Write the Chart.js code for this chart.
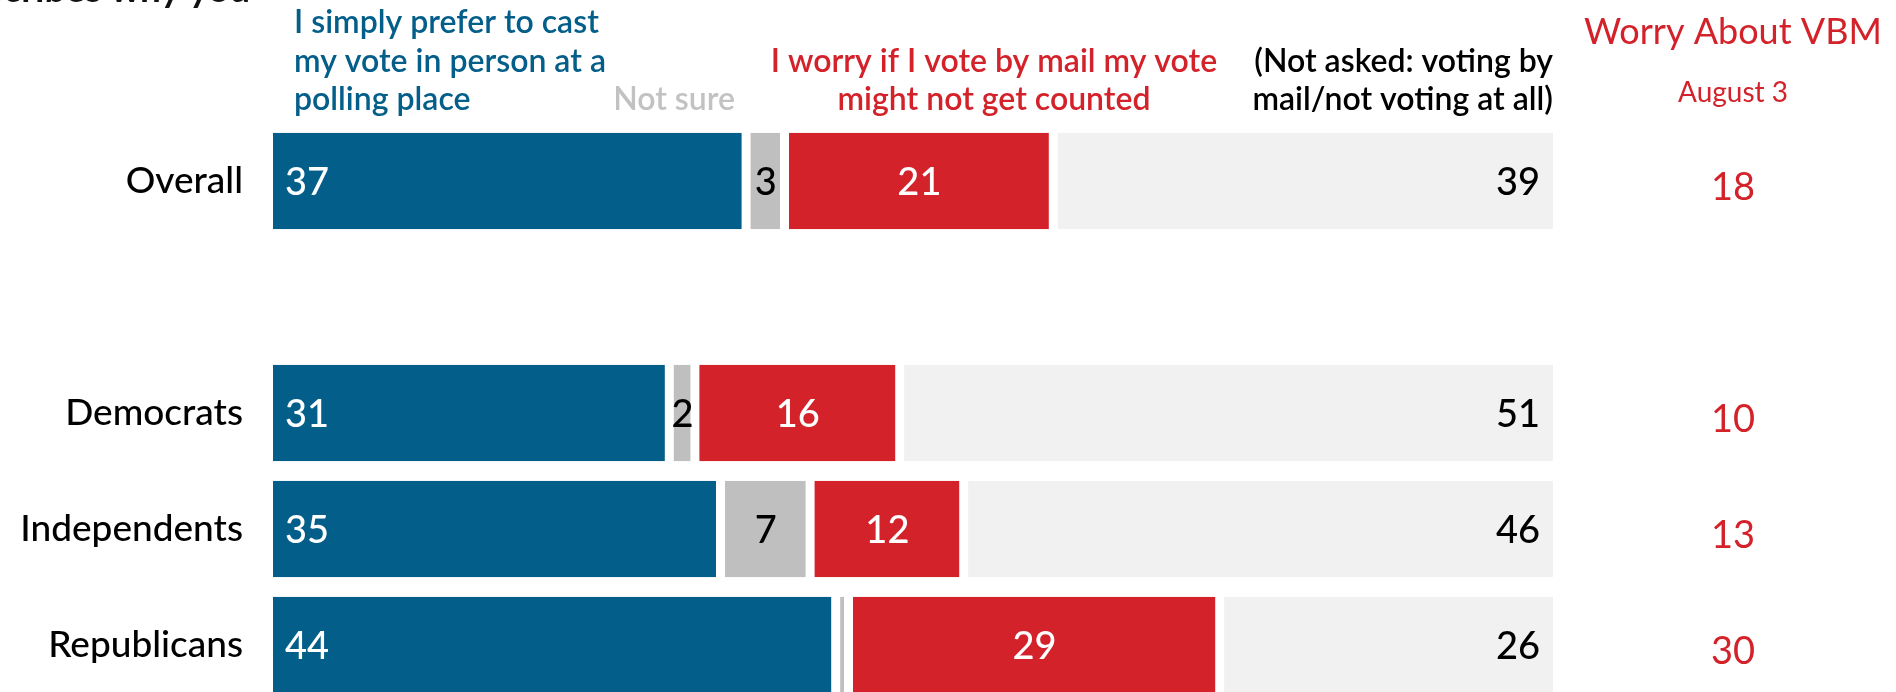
<!DOCTYPE html>
<html>
<head>
<meta charset="utf-8">
<script src="https://cdn.jsdelivr.net/npm/chart.js@4.4.0/dist/chart.umd.min.js"></script>
<style>
  html, body { margin: 0; padding: 0; background: #fff; overflow: hidden; }
  canvas { display: block; }
</style>
</head>
<body>
<canvas id="vbmChart" width="1896" height="703"></canvas>
<script>
// ---- data ----
const categories = ["Overall", "", "Democrats", "Independents", "Republicans"];
const inPerson = [37, null, 31, 35, 44];
const notSure = [3, null, 2, 7, 1];
const worryCounted = [21, null, 16, 12, 29];
const notAsked = [39, null, 51, 46, 26];
const worryAug3 = [18, null, 10, 13, 30];

const questionTitle = "Which best describes why you";
const headInPerson = ["I simply prefer to cast", "my vote in person at a", "polling place"];
const headNotSure = "Not sure";
const headWorry = ["I worry if I vote by mail my vote", "might not get counted"];
const headNotAsked = ["(Not asked: voting by", "mail/not voting at all)"];
const sideTitle = "Worry About VBM";
const sideDate = "August 3";

// ---- colours ----
const BLUE = "#035e89";
const RED = "#d3222a";
const GRAY = "#bfbfbf";
const LIGHT = "#f1f1f1";
const FONT = "Lato, 'Liberation Sans', sans-serif";

// ___________ value labels inside the bars ___________ //
const valueLabels = {
  id: "valueLabels",
  afterDatasetsDraw(chart) {
    const ctx = chart.ctx;
    ctx.save();
    ctx.font = "500 38px " + FONT;
    ctx.textBaseline = "alphabetic";
    chart.data.datasets.forEach((ds, i) => {
      const meta = chart.getDatasetMeta(i);
      meta.data.forEach((bar, j) => {
        const v = ds.data[j];
        if (v == null || v < 2) return; // 1-point slivers stay unlabeled
        const y = bar.y + 14;
        ctx.fillStyle = ds.labelColor;
        if (ds.labelPos === "start") {
          ctx.textAlign = "left";
          ctx.fillText(String(v), bar.base + 12, y);
        } else if (ds.labelPos === "end") {
          ctx.textAlign = "right";
          ctx.fillText(String(v), bar.x - 13, y);
        } else {
          ctx.textAlign = "center";
          ctx.fillText(String(v), (bar.base + bar.x) / 2, y);
        }
      });
    });
    ctx.restore();
  },
};

// ___________ column headers + side column ___________ //
const headerText = {
  id: "headerText",
  afterDraw(chart) {
    const { ctx, chartArea } = chart;
    const yScale = chart.scales.y;
    ctx.save();
    ctx.textBaseline = "alphabetic";

    // question title, runs off the top edge
    ctx.font = "bold 37px " + FONT;
    ctx.fillStyle = "#111";
    ctx.textAlign = "right";
    ctx.fillText(questionTitle, 250, 2);

    ctx.font = "600 32px " + FONT;
    ctx.fillStyle = BLUE;
    ctx.textAlign = "left";
    headInPerson.forEach((line, i) => ctx.fillText(line, chartArea.left + 21, 33 + i * 38.5));

    ctx.fillStyle = "#c2c2c2";
    ctx.textAlign = "right";
    ctx.fillText(headNotSure, 735, 110);

    ctx.fillStyle = RED;
    ctx.textAlign = "center";
    headWorry.forEach((line, i) => ctx.fillText(line, 994, 72 + i * 38));

    ctx.fillStyle = "#000";
    ctx.textAlign = "right";
    headNotAsked.forEach((line, i) => ctx.fillText(line, chartArea.right, 72 + i * 38));

    // side column
    const colX = 1733;
    ctx.fillStyle = RED;
    ctx.textAlign = "center";
    ctx.font = "36px " + FONT;
    ctx.fillText(sideTitle, colX, 44);
    ctx.font = "28px " + FONT;
    ctx.fillText(sideDate, colX, 102);
    ctx.font = "38px " + FONT;
    worryAug3.forEach((v, j) => {
      if (v == null) return;
      ctx.fillText(String(v), colX, yScale.getPixelForValue(j) + 19);
    });
    ctx.restore();
  },
};

const gap = (l, r) => ({ top: 0, bottom: 0, left: l, right: r });

const ctx = document.getElementById("vbmChart").getContext("2d");
const vbmChart = new Chart(ctx, {
  type: "bar",
  data: {
    labels: categories,
    datasets: [
      {
        label: "In person",
        data: inPerson,
        backgroundColor: BLUE,
        borderColor: "#fff",
        borderWidth: gap(0, 5),
        borderSkipped: false,
        labelPos: "start",
        labelColor: "#fff",
      },
      {
        label: "Not sure",
        data: notSure,
        backgroundColor: GRAY,
        borderColor: "#fff",
        borderWidth: gap(4, 5),
        borderSkipped: false,
        labelPos: "center",
        labelColor: "#000",
      },
      {
        label: "Worry",
        data: worryCounted,
        backgroundColor: RED,
        borderColor: "#fff",
        borderWidth: gap(4, 5),
        borderSkipped: false,
        labelPos: "center",
        labelColor: "#fff",
      },
      {
        label: "Not asked",
        data: notAsked,
        backgroundColor: LIGHT,
        borderColor: "#fff",
        borderWidth: gap(4, 0),
        borderSkipped: false,
        labelPos: "end",
        labelColor: "#000",
      },
    ],
  },
  options: {
    indexAxis: "y",
    responsive: false,
    animation: false,
    layout: { padding: { top: 123, right: 343, bottom: 0, left: 0 } },
    datasets: { bar: { categoryPercentage: 1, barPercentage: 0.83 } },
    plugins: { legend: { display: false }, tooltip: { enabled: false } },
    scales: {
      x: { stacked: true, min: 0, max: 100, display: false },
      y: {
        stacked: true,
        grid: { display: false, drawTicks: false },
        border: { display: false },
        ticks: { color: "#000", font: { family: FONT, size: 37, weight: 500 }, padding: 30 },
        afterFit: (scale) => {
          // fixed label gutter, no extra room above/below the bars
          scale.width = 273;
          scale.paddingTop = 0;
          scale.paddingBottom = 0;
        },
      },
    },
  },
  plugins: [valueLabels, headerText],
});
</script>
</body>
</html>
